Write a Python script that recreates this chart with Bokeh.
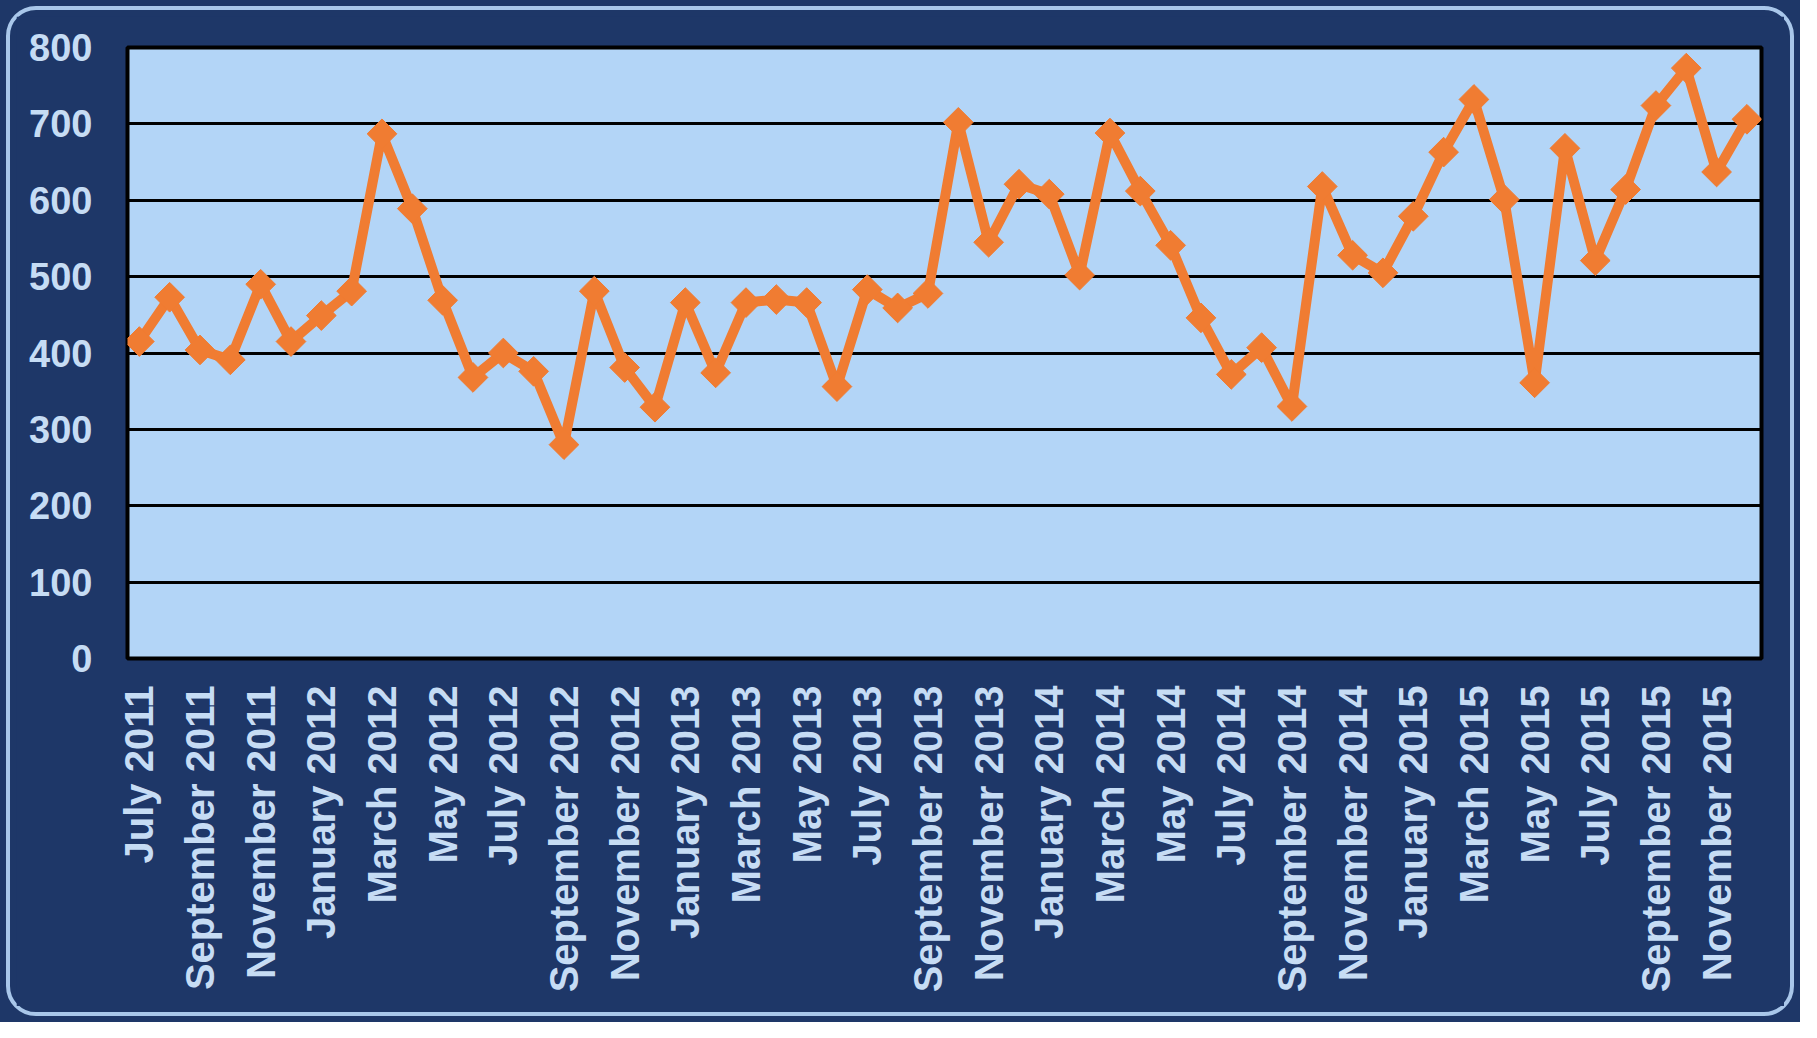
import numpy as np
from bokeh.plotting import figure
from bokeh.layouts import column
from bokeh.models import Range1d, FixedTicker, ColumnDataSource
from bokeh.embed import file_html
from bokeh.resources import INLINE

# ---- data -------------------------------------------------------------
values = [415, 473, 404, 391, 490, 415,                                  # Jul-Dec 2011
          449, 481, 687, 589, 469, 368, 400, 376, 280, 481, 381, 329,    # 2012
          466, 374, 466, 470, 466, 356, 483, 459, 478, 702, 545, 621,    # 2013
          608, 502, 688, 612, 541, 446, 372, 407, 330, 618, 528, 505,    # 2014
          579, 663, 732, 601, 361, 668, 521, 614, 724, 773, 637, 706]    # 2015

tick_labels = ["July 2011", "September 2011", "November 2011",
               "January 2012", "March 2012", "May 2012", "July 2012", "September 2012", "November 2012",
               "January 2013", "March 2013", "May 2013", "July 2013", "September 2013", "November 2013",
               "January 2014", "March 2014", "May 2014", "July 2014", "September 2014", "November 2014",
               "January 2015", "March 2015", "May 2015", "July 2015", "September 2015", "November 2015"]

y_ticks = [0, 100, 200, 300, 400, 500, 600, 700, 800]

# ---- styling ----------------------------------------------------------
NAVY = "#1e3768"
PLOT_BG = "#b3d5f7"
TEXT = "#c6dcf4"
ORANGE = "#f07c32"
FONT = "Liberation Sans"

x = list(range(len(values)))
src = ColumnDataSource(dict(x=x, y=values))

fig = figure(frame_width=1634, frame_height=611,
             min_border_left=111, min_border_right=23,
             min_border_top=31, min_border_bottom=348,
             x_range=Range1d(-0.39, len(values) - 0.52),
             y_range=Range1d(0, 800),
             output_backend="svg", toolbar_location=None)

fig.background_fill_color = PLOT_BG
fig.border_fill_color = NAVY
fig.outline_line_color = "black"
fig.outline_line_width = 4

# grid
fig.xgrid.grid_line_color = None
fig.ygrid.grid_line_color = "black"
fig.ygrid.grid_line_width = 3
fig.ygrid.ticker = FixedTicker(ticks=y_ticks)

# y axis
fig.yaxis.ticker = FixedTicker(ticks=y_ticks)
fig.yaxis.axis_line_color = None
fig.yaxis.major_tick_line_color = None
fig.yaxis.minor_tick_line_color = None
fig.yaxis.major_tick_out = 0
fig.yaxis.major_label_standoff = 35
fig.yaxis.major_label_text_font = FONT
fig.yaxis.major_label_text_font_style = "bold"
fig.yaxis.major_label_text_font_size = "38px"
fig.yaxis.major_label_text_color = TEXT

# x axis
label_ticks = list(range(0, len(values), 2))
fig.xaxis.ticker = FixedTicker(ticks=label_ticks)
fig.xaxis.major_label_overrides = {t: lab for t, lab in zip(label_ticks, tick_labels)}
fig.xaxis.major_label_orientation = np.pi / 2
fig.xaxis.axis_line_color = None
fig.xaxis.major_tick_line_color = None
fig.xaxis.minor_tick_line_color = None
fig.xaxis.major_tick_out = 0
fig.xaxis.major_label_standoff = 27
fig.xaxis.major_label_text_font = FONT
fig.xaxis.major_label_text_font_style = "bold"
fig.xaxis.major_label_text_font_size = "40px"
fig.xaxis.major_label_text_color = TEXT

# series
fig.line("x", "y", source=src, line_color=ORANGE, line_width=10, line_join="round")
fig.scatter("x", "y", source=src, marker="square", angle=np.pi / 4, size=21,
            fill_color=ORANGE, line_color=ORANGE)

# rounded light frame around the whole chart, drawn by the enclosing layouts
inner = column(fig, styles={"background-color": NAVY,
                            "border": "4px solid #a9c7ea",
                            "border-radius": "30px",
                            "padding": "6px"})
p = column(inner, styles={"background-color": NAVY, "padding": "6px"})

open("out.html", "w").write(file_html(p, INLINE))
